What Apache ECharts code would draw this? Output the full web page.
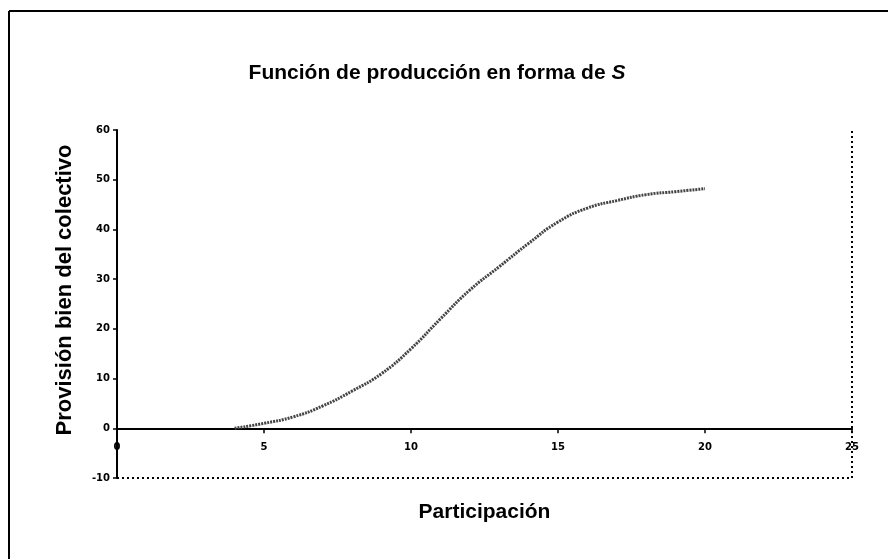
<!DOCTYPE html>
<html>
<head>
<meta charset="utf-8">
<script src="https://cdn.jsdelivr.net/npm/echarts@6/dist/echarts.min.js"></script>
<style>
html,body{margin:0;padding:0;background:#fff;}
#chart{width:888px;height:559px;}
</style>
</head>
<body>
<div id="chart"></div>
<script>
var participacion = [4, 5, 6, 7, 8, 9, 10, 11, 12, 13, 14, 15, 16, 17, 18, 19, 20];
var provision = [0, 1, 2.3, 4.5, 7.5, 11, 16, 22, 27.8, 32.5, 37.2, 41.5, 44.3, 45.8, 47, 47.6, 48.2];
var xTicks = [0, 5, 10, 15, 20, 25];
var yTicks = [-10, 0, 10, 20, 30, 40, 50, 60];

var chart = echarts.init(document.getElementById('chart'));
var points = participacion.map(function (x, i) { return [x, provision[i]]; });
var xMin = xTicks[0], xMax = xTicks[xTicks.length - 1];
var yMin = yTicks[0], yMax = yTicks[yTicks.length - 1];

var labelFont = { fontFamily: 'DejaVu Sans', fontWeight: 'bold', fontSize: 10, color: '#000' };

chart.setOption({
  animation: false,
  backgroundColor: '#fff',
  title: {
    text: '{a|Función de producción en forma de }{b|S}',
    left: 432, top: 58, textAlign: 'center',
    textStyle: {
      rich: {
        a: { fontFamily: 'Liberation Sans', fontWeight: 'bold', fontSize: 21, color: '#000' },
        b: { fontFamily: 'Liberation Sans', fontWeight: 'bold', fontStyle: 'italic', fontSize: 21, color: '#000' }
      }
    }
  },
  grid: { left: 117, right: 36, top: 130, bottom: 81, outerBoundsMode: 'none', containLabel: false },
  xAxis: {
    type: 'value', min: xMin, max: xMax, interval: 5,
    name: 'Participación', nameLocation: 'middle', nameGap: 24,
    nameTextStyle: { fontFamily: 'Liberation Sans', fontWeight: 'bold', fontSize: 21, color: '#000' },
    axisLine: { onZero: true, lineStyle: { color: '#000', width: 2 } },
    axisTick: { show: true, length: 5, lineStyle: { color: '#000', width: 1.5 } },
    axisLabel: Object.assign({ margin: -36 }, labelFont),
    splitLine: { show: false }
  },
  yAxis: {
    type: 'value', min: yMin, max: yMax, interval: 10,
    axisLine: { show: true, onZero: false, lineStyle: { color: '#000', width: 2 } },
    axisTick: { show: true, length: 4, lineStyle: { color: '#000', width: 1.5 } },
    axisLabel: Object.assign({ margin: 7 }, labelFont),
    splitLine: { show: false }
  },
  graphic: [
    { type: 'line', shape: { x1: 9, y1: 11, x2: 888, y2: 11 }, style: { stroke: '#000', lineWidth: 2 } },
    { type: 'line', shape: { x1: 9, y1: 11, x2: 9, y2: 559 }, style: { stroke: '#000', lineWidth: 2 } },
    {
      type: 'text', x: 65, y: 290, rotation: Math.PI / 2,
      style: {
        text: 'Provisión bien del colectivo', align: 'center', verticalAlign: 'middle',
        font: 'bold 22px "Liberation Sans"', fill: '#000'
      }
    }
  ],
  series: [{
    type: 'line', data: points, smooth: true, symbol: 'none',
    lineStyle: { color: '#444', width: 3, type: [2, 1] },
    markLine: {
      silent: true, symbol: 'none', label: { show: false },
      lineStyle: { color: '#000', width: 2, type: [2, 3] },
      data: [
        [{ coord: [xMin, yMin] }, { coord: [xMax, yMin] }],
        [{ coord: [xMax, yMin] }, { coord: [xMax, yMax] }]
      ]
    }
  }]
});
</script>
</body>
</html>
